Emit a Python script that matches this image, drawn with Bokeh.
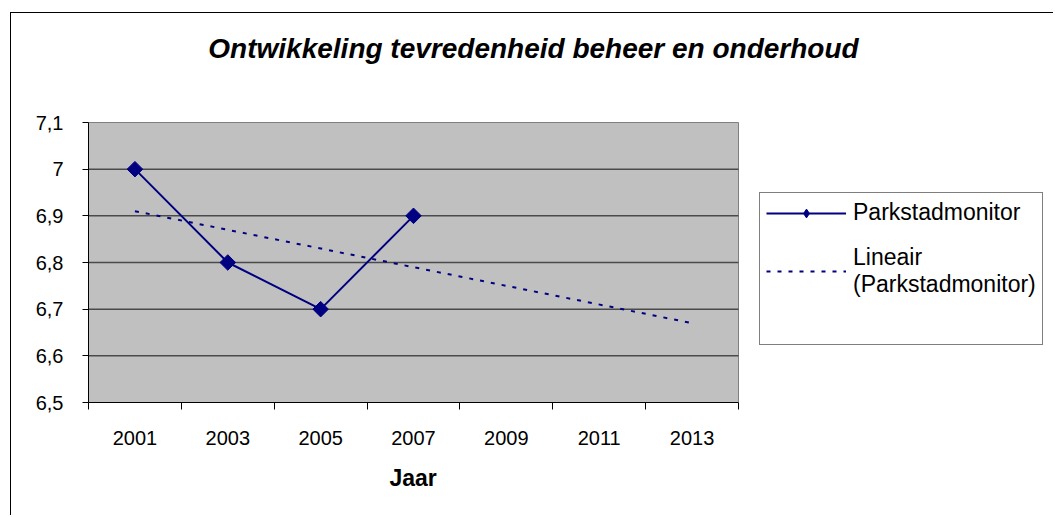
import math
from bokeh.plotting import figure
from bokeh.models import (Range1d, FixedTicker, CustomJSTickFormatter, Legend, LegendItem,
                          Label, Title, ColumnDataSource)
from bokeh.embed import file_html
from bokeh.resources import INLINE

# ---- data ----
years = ["2001", "2003", "2005", "2007", "2009", "2011", "2013"]
series_years = ["2001", "2003", "2005", "2007"]
series_values = [7.0, 6.8, 6.7, 6.9]
trend_years = ["2001", "2013"]
trend_values = [6.91, 6.67]
y_ticks = [6.5, 6.6, 6.7, 6.8, 6.9, 7.0, 7.1]
y_labels = ["6,5", "6,6", "6,7", "6,8", "6,9", "7", "7,1"]
title_text = "Ontwikkeling tevredenheid beheer en onderhoud"
x_title = "Jaar"
series_name = "Parkstadmonitor"
trend_name = "Lineair\n(Parkstadmonitor)"

NAVY = "#000080"
FONT = "Liberation Sans"

# ---- layout geometry (pixels) ----
W, H = 1043, 503
BORDER_L, BORDER_B = 77, 114
AREA_W, AREA_H = 650, 280          # grey plot area size
frame_w, frame_h = W - BORDER_L, H - BORDER_B
n_cat = len(years)
x_end = n_cat * frame_w / AREA_W
y_span = y_ticks[-1] - y_ticks[0]
y_end = y_ticks[0] + y_span * frame_h / AREA_H

p = figure(width=W, height=H, output_backend="svg", toolbar_location=None,
           x_range=Range1d(0, x_end), y_range=Range1d(y_ticks[0], y_end),
           min_border_left=BORDER_L, min_border_right=0, min_border_top=0,
           min_border_bottom=BORDER_B)
p.styles = {"margin-left": "10px", "margin-top": "12px",
            "border-left": "1px solid #000000", "border-top": "1px solid #000000"}
p.background_fill_color = "#FFFFFF"
p.border_fill_color = "#FFFFFF"
p.outline_line_color = None
p.xgrid.grid_line_color = None
p.ygrid.grid_line_color = None

# grey plot area and grid lines
p.quad(left=[0], right=[n_cat], bottom=[y_ticks[0]], top=[y_ticks[-1]],
       fill_color="#C0C0C0", line_color="#808080", line_width=1)
grid_vals = y_ticks[1:-1]
p.segment(x0=[0] * len(grid_vals), x1=[n_cat] * len(grid_vals), y0=grid_vals, y1=grid_vals,
          line_color="#4a4a4a", line_width=1.5)

# x axis: labels at category centres, ticks at boundaries
xa = p.xaxis[0]
xa.bounds = (0, n_cat)
xa.ticker = FixedTicker(ticks=[i + 0.5 for i in range(n_cat)],
                        minor_ticks=list(range(n_cat + 1)))
xa.formatter = CustomJSTickFormatter(args=dict(labels=years), code="return labels[index];")
xa.major_tick_out = 0
xa.major_tick_in = 0
xa.minor_tick_out = 7
xa.minor_tick_in = 0
xa.minor_tick_line_color = "#000000"
xa.axis_line_color = "#000000"
xa.major_label_text_font = FONT
xa.major_label_text_font_size = "20px"
xa.major_label_text_color = "#000000"
xa.major_label_standoff = 21

ya = p.yaxis[0]
ya.bounds = (y_ticks[0], y_ticks[-1])
ya.ticker = FixedTicker(ticks=y_ticks, minor_ticks=[])
ya.formatter = CustomJSTickFormatter(args=dict(labels=y_labels), code="return labels[index];")
ya.major_tick_out = 6
ya.major_tick_in = 0
ya.major_tick_line_color = "#000000"
ya.minor_tick_line_color = None
ya.axis_line_color = "#000000"
ya.major_label_text_font = FONT
ya.major_label_text_font_size = "20px"
ya.major_label_text_color = "#000000"
ya.major_label_standoff = 19

# x axis title, centred under the grey plot area
x_title_w = 48
p.add_layout(Title(text=x_title, align="left", offset=AREA_W / 2 - x_title_w / 2,
                   standoff=30, text_font=FONT, text_font_size="23px",
                   text_font_style="bold", text_color="#000000"), "below")

# ---- series ----
src = ColumnDataSource(dict(x=[years.index(y) + 0.5 for y in series_years], y=series_values))
tsrc = ColumnDataSource(dict(x=[years.index(y) + 0.5 for y in trend_years], y=trend_values))

trend = p.line("x", "y", source=tsrc, line_color=NAVY, line_width=2, line_dash="4 7")
ln = p.line("x", "y", source=src, line_color=NAVY, line_width=2)
mk = p.scatter("x", "y", source=src, marker="square", angle=math.pi / 4, size=11,
               fill_color=NAVY, line_color=NAVY)
# legend-only helpers (hidden on the plot)
leg_marker = p.scatter("x", "y", source=src, marker="diamond", fill_color=NAVY,
                       line_color=NAVY, visible=False)
ghost = p.line(x=[], y=[], line_alpha=0)

legend = Legend(items=[LegendItem(label=series_name, renderers=[ln, leg_marker]),
                       LegendItem(label=trend_name, renderers=[trend]),
                       LegendItem(label="", renderers=[ghost])],
                location=(671, 57), orientation="vertical",
                border_line_color="#000000", border_line_width=1,
                background_fill_color="#FFFFFF", background_fill_alpha=1,
                label_text_font=FONT, label_text_font_size="23px", label_text_color="#000000",
                glyph_width=80, glyph_height=22, label_standoff=7, label_height=20,
                padding=6, spacing=18, margin=0)
p.add_layout(legend, "center")

title = Label(x=445, y=354, x_units="screen", y_units="screen", text=title_text,
              text_align="center", text_baseline="middle", text_font=FONT,
              text_font_size="28px", text_font_style="bold italic", text_color="#000000")
p.add_layout(title)

open("out.html", "w").write(file_html(p, INLINE))
